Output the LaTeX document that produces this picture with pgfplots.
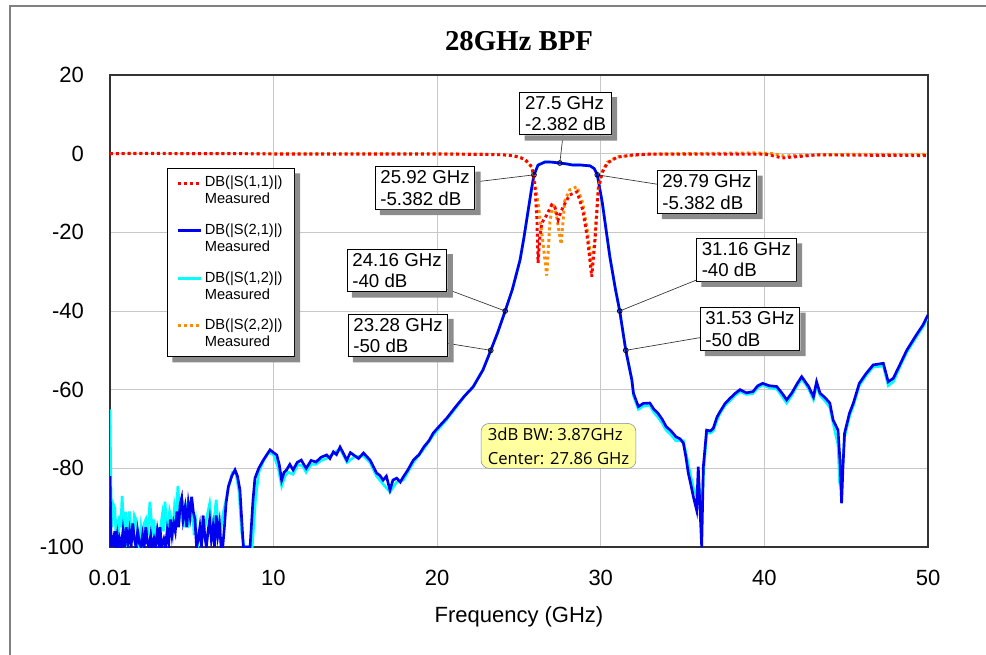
\documentclass[border=0pt]{standalone}
\usepackage{fontspec}
\setmainfont{Liberation Sans}
\newfontfamily\titlefont{Liberation Serif}
\newfontfamily\notefont{Open Sans}
\usepackage{pgfplots}
\usepackage{pgfplotstable}
\pgfplotsset{compat=1.18}

\definecolor{cS11}{RGB}{255,0,0}
\definecolor{cS21}{RGB}{0,0,240}
\definecolor{cS12}{RGB}{0,255,255}
\definecolor{cS22}{RGB}{255,140,0}
\definecolor{noteFill}{RGB}{255,255,160}
\definecolor{noteDraw}{RGB}{120,140,170}

% |S21| measured
\pgfplotstableread{
x y
0.01 -82
0.08 -100
0.15 -97
0.22 -100
0.3 -96
0.38 -99
0.45 -97
0.52 -100
0.6 -98
0.7 -100
0.8 -96
0.9 -100
1.0 -95
1.1 -99
1.2 -96
1.3 -100
1.4 -94
1.5 -98
1.6 -100
1.7 -96
1.8 -99
1.9 -100
2.0 -97
2.1 -100
2.2 -95
2.3 -99
2.4 -100
2.5 -97
2.6 -100
2.7 -98
2.8 -100
2.9 -96
3.0 -99
3.07 -95
3.15 -100
3.3 -98
3.4 -100
3.5 -96
3.6 -99
3.7 -93
3.8 -97
3.9 -94
4.0 -96
4.1 -91
4.2 -95
4.3 -89
4.39 -87.5
4.48 -93
4.6 -90
4.7 -95
4.8 -89
4.9 -92
5.0 -87.2
5.1 -91
5.2 -93
5.3 -100
5.4 -98
5.5 -95
5.6 -100
5.7 -92
5.8 -97
5.9 -100
6.0 -96
6.1 -93
6.2 -98
6.3 -95
6.4 -100
6.5 -92
6.6 -97
6.7 -94
6.8 -100
6.9 -100
7.0 -95
7.1 -89
7.24 -84.7
7.45 -82
7.65 -80.4
7.8 -82
7.95 -85.5
8.16 -100
8.57 -100
8.75 -88
8.87 -82.5
9.1 -80
9.38 -77.9
9.6 -76.5
9.79 -75.3
10.0 -76
10.2 -76.6
10.35 -79
10.5 -83
10.65 -81
10.8 -80.4
11.0 -79
11.2 -80.4
11.45 -78.5
11.7 -77.9
11.85 -79
12.0 -80
12.3 -78
12.6 -78.4
12.9 -77.2
13.25 -76.6
13.45 -77.5
13.66 -75.8
13.85 -76.5
14.07 -74.6
14.25 -76
14.48 -77.9
14.7 -76
14.9 -76.6
15.2 -77.5
15.5 -76.1
15.7 -77
15.9 -77.9
16.1 -79.5
16.3 -81.2
16.5 -81.8
16.7 -83
16.9 -82
17.12 -85.5
17.3 -83
17.53 -82.5
17.75 -83.5
17.93 -82.2
18.2 -80.5
18.55 -77.9
18.9 -76.5
19.2 -74.5
19.5 -73
19.77 -71
20.2 -69
20.6 -67.2
21.2 -64
21.7 -61.5
22.2 -59.3
22.8 -55
23.28 -50
23.7 -45.5
24.16 -40
24.6 -34.5
25.07 -27
25.3 -21.5
25.57 -14.3
25.75 -9.5
25.92 -5.382
26.17 -2.9
26.6 -2.1
27.0 -2.15
27.5 -2.382
27.9 -2.6
28.3 -2.9
28.8 -2.9
29.35 -3.1
29.6 -3.8
29.79 -5.382
30.1 -12.6
30.56 -26.3
30.9 -34.5
31.16 -40
31.53 -50
31.9 -57.5
32.0 -60.9
32.3 -64.3
32.6 -63.5
33.0 -63.4
33.25 -65
33.5 -66
33.75 -67.5
34.0 -69.4
34.3 -70.5
34.6 -72
34.85 -72.5
35.05 -73.6
35.2 -77
35.35 -81.2
35.5 -84
35.66 -87.2
35.86 -90.6
35.96 -79.6
36.06 -89.7
36.17 -100
36.27 -79.6
36.47 -70.3
36.7 -70.5
36.88 -69.8
37.1 -67
37.29 -65.6
37.6 -63.5
37.9 -62.2
38.2 -61
38.51 -60
38.9 -60.8
39.3 -60.5
39.6 -59
39.9 -58.4
40.3 -59
40.75 -59.2
41.1 -61
41.36 -62.6
41.67 -60.9
42.0 -58.5
42.28 -56.7
42.5 -58
42.7 -59.2
43.0 -61.8
43.19 -58
43.4 -60.9
43.7 -62
44.0 -63.4
44.2 -67.7
44.5 -70.3
44.62 -78
44.72 -88.9
44.8 -80
44.9 -71.1
45.2 -66
45.44 -63.4
45.8 -58.4
46.2 -56
46.65 -53.7
47.27 -53.3
47.57 -58
47.88 -57.1
48.3 -53.5
48.7 -50
49.3 -46
49.7 -43.5
50.0 -41
}\tSTwoOne

% |S12| measured
\pgfplotstableread{
x y
0.01 -65
0.06 -84
0.12 -95
0.2 -89
0.3 -90
0.38 -97
0.45 -93
0.52 -98
0.6 -92
0.67 -95
0.75 -87
0.82 -93
0.9 -96
0.97 -91
1.05 -100
1.12 -95
1.2 -91
1.3 -96
1.4 -97
1.5 -92
1.6 -93
1.7 -98
1.8 -100
1.9 -95
2.0 -98
2.1 -94
2.2 -93
2.32 -97
2.45 -88.5
2.55 -94
2.6 -97
2.7 -93
2.8 -100
2.9 -96
3.0 -98
3.1 -95
3.2 -92
3.28 -96
3.37 -88.5
3.45 -93
3.55 -96
3.65 -91
3.75 -93
3.85 -96
3.95 -90
4.05 -93
4.16 -84.5
4.25 -90
4.35 -92
4.45 -88
4.55 -95
4.65 -91
4.75 -89
4.85 -94
4.95 -93
5.05 -90
5.15 -97
5.25 -94
5.35 -100
5.45 -97
5.55 -95
5.65 -98
5.75 -96
5.85 -94
5.95 -92
6.1 -89
6.2 -93
6.3 -96
6.4 -92
6.5 -88
6.6 -94
6.7 -97
6.8 -95
6.9 -92
7.0 -90
7.1 -88
7.3 -84
7.5 -81
7.7 -81
7.9 -86
8.05 -96
8.2 -100
8.7 -100
8.9 -88
9.1 -81
9.4 -78
9.7 -76
10.0 -76.5
10.3 -80
10.5 -84.5
10.7 -82
10.9 -81
11.2 -81.5
11.5 -79
11.8 -79.5
12.0 -81
12.3 -79
12.6 -79
12.9 -78
13.25 -77.5
13.6 -76.5
14.07 -75
14.5 -78.5
14.9 -77.2
15.5 -76.8
15.9 -78.5
16.3 -82
16.7 -84
17.12 -86
17.53 -83.5
17.93 -83
18.55 -78.5
19.2 -75
19.77 -71.5
20.6 -67.5
21.2 -64.3
21.7 -61.5
22.2 -59.3
22.8 -55
23.28 -50
23.7 -45.5
24.16 -40
24.6 -34.5
25.07 -27
25.3 -21.5
25.57 -14.3
25.75 -9.5
25.92 -5.382
26.17 -2.9
26.6 -2.1
27.0 -2.15
27.5 -2.382
27.9 -2.6
28.3 -2.9
28.8 -2.9
29.35 -3.1
29.6 -3.8
29.79 -5.382
30.1 -12.6
30.56 -26.3
30.9 -34.5
31.16 -40
31.53 -50
31.9 -57.5
32.0 -61.5
32.3 -65
32.6 -64.2
33.0 -64
33.25 -65.8
33.5 -67
33.75 -68.5
34.0 -70.3
34.3 -71.5
34.6 -73
34.85 -73
35.05 -73
35.2 -76
35.35 -79
35.5 -82
35.66 -85
35.86 -87
35.96 -83
36.06 -86
36.17 -92
36.27 -82
36.47 -71
36.7 -71
36.88 -70.5
37.1 -67.8
37.29 -66
37.6 -64
37.9 -62.8
38.2 -61.5
38.51 -60.5
38.9 -61.2
39.3 -61
39.6 -59.5
39.9 -58.8
40.3 -59.5
40.75 -59.8
41.1 -61.8
41.36 -63.4
41.67 -61.5
42.0 -59
42.28 -57.3
42.5 -58.5
42.7 -59.8
43.0 -62.5
43.19 -58.8
43.4 -61.5
43.7 -62.8
44.0 -64.5
44.2 -68.5
44.5 -74
44.6 -83.7
44.72 -85
44.8 -78
44.9 -72
45.2 -66.8
45.44 -64
45.8 -59
46.2 -56.5
46.65 -54.2
47.27 -54
47.57 -59
47.88 -58
48.3 -54
48.7 -50.5
49.3 -46.5
49.7 -44
50.0 -41.5
}\tSOneTwo

% |S11| measured
\pgfplotstableread{
x y
0.01 0
2 0.1
5 0
8 0
10 -0.1
15 -0.1
20 -0.1
23 -0.2
24 -0.3
24.65 -0.5
25.1 -1
25.4 -1.6
25.65 -2.6
25.8 -3.6
25.98 -8.4
26.1 -16.8
26.17 -27.8
26.28 -21
26.4 -17.6
26.7 -15.6
27.0 -13
27.2 -13.6
27.4 -16.8
27.55 -15
27.7 -13.5
28.1 -10.5
28.55 -9.7
28.9 -14.3
29.2 -21.9
29.45 -31.3
29.65 -22
29.85 -9.2
30.08 -4.9
30.4 -2.4
31 -0.9
32 -0.3
33 -0.1
40 -0.1
40.6 -0.6
41.1 -1.1
41.6 -0.9
42.2 -0.7
43.2 -0.3
46 -0.4
50 -0.5
}\tSOneOne

% |S22| measured
\pgfplotstableread{
x y
0.01 0
8 0
20 0
24 -0.2
24.7 -0.6
25.3 -1.3
25.8 -3.5
26.0 -8
26.2 -13.5
26.45 -22
26.7 -31
26.9 -17
27.1 -12.6
27.3 -16
27.58 -23
27.8 -12
28.1 -9.2
28.55 -8.4
28.9 -12.6
29.2 -20
29.45 -29
29.65 -21
29.85 -8.5
30.1 -4.5
30.4 -2.2
31 -0.8
33 -0.1
39.5 0.2
40.5 0
41.2 -0.6
42 -0.4
45 -0.2
50 -0.2
}\tSTwoTwo

\tikzset{
  dotS11/.style={cS11, line width=2.2pt, dash pattern=on 2.2pt off 2.2pt},
  dotS22/.style={cS22, line width=2.2pt, dash pattern=on 2.2pt off 2.2pt},
  lnS21/.style={cS21, line width=2pt},
  lnS12/.style={cS12, line width=2pt},
  mk/.style={draw=black, line width=0.7pt, fill=white, align=left,
    inner xsep=4pt, inner ysep=3pt, font=\fontsize{14}{16}\selectfont},
  lead/.style={black!80, line width=0.5pt},
}
% grey shadow strip along the right and bottom edge of a named box
\newcommand{\boxshadow}[1]{%
  \fill[black!45] ([yshift=-4pt]#1.north east) -- ++(4pt,0pt)
    |- ([xshift=4pt,yshift=-4pt]#1.south west) -- ([xshift=4pt]#1.south west)
    -- (#1.south east) -- cycle;}

\begin{document}
\begin{tikzpicture}
\useasboundingbox (0,0) rectangle (739.5pt,490.5pt);
\draw[black!50, line width=1.5pt] (7.5pt,-3pt) -- (7.5pt,486pt) -- (745pt,486pt);
\begin{axis}[
  at={(82.5pt,80.25pt)}, anchor=south west,
  scale only axis, width=613.5pt, height=354pt,
  xmin=0.01, xmax=50, ymin=-100, ymax=20,
  xtick={0.01,10,20,30,40,50}, xticklabels={0.01,10,20,30,40,50},
  ytick={-100,-80,-60,-40,-20,0,20}, yticklabels={-100,-80,-60,-40,-20,0,20},
  /pgf/number format/assume math mode=true,
  grid=major, major grid style={draw=black!22, line width=0.6pt},
  major tick length=0pt,
  tick label style={font=\fontsize{16.5}{19}\selectfont},
  yticklabel style={xshift=-16pt},
  xticklabel style={yshift=-14pt},
  axis line style={draw=black!80, line width=0.8pt},
  title={\titlefont\bfseries 28GHz BPF},
  title style={at={(axis description cs:0.5,1)}, anchor=center, yshift=19.5pt,
    font=\fontsize{21.6}{24}\selectfont},
  xlabel={Frequency (GHz)},
  xlabel style={at={(axis description cs:0.5,0)}, anchor=center, yshift=-52.5pt,
    font=\fontsize{16.5}{19}\selectfont},
  legend style={name=leg, at={(axis cs:3.49,-3.64)}, anchor=north west, draw=black,
    fill=white, font=\fontsize{11}{12.75}\selectfont,
    cells={align=left, anchor=west}, row sep=9.5pt,
    inner xsep=7pt, inner ysep=4pt},
  legend cell align=left,
  legend image code/.code={\draw[#1] (0pt,6pt) -- (17pt,6pt);},
]
\addplot[lnS12, forget plot] table {\tSOneTwo};
\addplot[lnS21, forget plot] table {\tSTwoOne};
\addplot[dotS22, forget plot] table {\tSTwoTwo};
\addplot[dotS11, forget plot] table {\tSOneOne};

\addlegendimage{dotS11}
\addlegendentry{DB(|S(1,1)|)\\Measured}
\addlegendimage{lnS21}
\addlegendentry{DB(|S(2,1)|)\\Measured}
\addlegendimage{lnS12}
\addlegendentry{DB(|S(1,2)|)\\Measured}
\addlegendimage{dotS22}
\addlegendentry{DB(|S(2,2)|)\\Measured}

% marker callouts
\draw[lead] (axis cs:27.85,10.2) -- (axis cs:27.5,-2.382);
\draw[lead] (axis cs:19.26,-8.73) -- (axis cs:25.92,-5.382);
\draw[lead] (axis cs:36.49,-9.75) -- (axis cs:29.79,-5.382);
\draw[lead] (axis cs:17.55,-29.7) -- (axis cs:24.16,-40);
\draw[lead] (axis cs:17.61,-46.2) -- (axis cs:23.28,-50);
\draw[lead] (axis cs:38.9,-27) -- (axis cs:31.16,-40);
\draw[lead] (axis cs:39.12,-44.6) -- (axis cs:31.53,-50);
\node[mk] (m1) at (axis cs:27.85,10.2) {27.5 GHz\\-2.382 dB};
\node[mk] (m2) at (axis cs:19.26,-8.73) {25.92 GHz\\-5.382 dB};
\node[mk] (m3) at (axis cs:36.49,-9.75) {29.79 GHz\\-5.382 dB};
\node[mk] (m4) at (axis cs:17.55,-29.7) {24.16 GHz\\-40 dB};
\node[mk] (m5) at (axis cs:17.61,-46.2) {23.28 GHz\\-50 dB};
\node[mk] (m6) at (axis cs:38.9,-27) {31.16 GHz\\-40 dB};
\node[mk] (m7) at (axis cs:39.12,-44.6) {31.53 GHz\\-50 dB};
\addplot[only marks, mark=o, mark size=1.8pt, mark options={black, line width=0.6pt}, forget plot]
  coordinates {(27.5,-2.382) (25.92,-5.382) (29.79,-5.382) (24.16,-40) (31.16,-40) (23.28,-50) (31.53,-50)};

\node[draw=noteDraw, fill=noteFill, rounded corners=6pt, align=left,
  font=\notefont\fontsize{12.5}{18}\selectfont, inner xsep=5pt, inner ysep=3pt]
  at (axis cs:27.42,-74.3) {3dB BW: 3.87GHz\\Center: 27.86 GHz};
\end{axis}
\boxshadow{leg}
\boxshadow{m1}
\boxshadow{m2}
\boxshadow{m3}
\boxshadow{m4}
\boxshadow{m5}
\boxshadow{m6}
\boxshadow{m7}
\end{tikzpicture}
\end{document}
